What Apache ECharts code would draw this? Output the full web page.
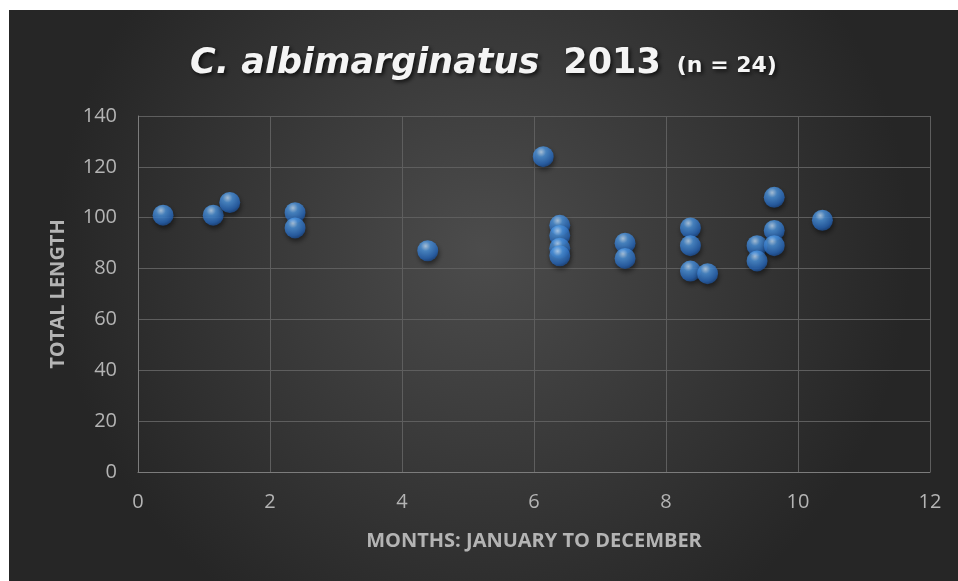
<!DOCTYPE html>
<html>
<head>
<meta charset="utf-8">
<script src="https://cdn.jsdelivr.net/npm/echarts@6/dist/echarts.min.js"></script>
<style>
  html, body { margin: 0; padding: 0; background: #fff; }
  #chart { position: absolute; left: 9px; top: 10px; width: 949px; height: 571px; }
</style>
</head>
<body>
<div id="chart"></div>
<script>
// month (fractional) vs total length
const months = [0.38, 1.14, 1.39, 2.38, 2.38, 4.39, 6.14, 6.39, 6.39, 6.39, 6.39,
  7.38, 7.38, 8.37, 8.37, 8.37, 8.63, 9.38, 9.38, 9.64, 9.64, 9.64, 10.37];
const lengths = [101, 101, 106, 102, 96, 87, 124, 97, 93, 88, 85,
  90, 84, 96, 89, 79, 78, 89, 83, 108, 95, 89, 99];
const xTicks = [0, 2, 4, 6, 8, 10, 12];
const yTicks = [0, 20, 40, 60, 80, 100, 120, 140];

const points = months.map((m, i) => [m, lengths[i]]);

const chart = echarts.init(document.getElementById('chart'));

const sphere = new echarts.graphic.RadialGradient(0.4, 0.28, 0.78, [
  { offset: 0, color: '#c4e2ff' },
  { offset: 0.3, color: '#4e97e2' },
  { offset: 0.75, color: '#2868bb' },
  { offset: 1, color: '#17407c' }
]);

const labelColor = '#b4b4b4';
const font = '"Open Sans", sans-serif';
const titleFont = '"DejaVu Sans", sans-serif';
const shadow = {
  textShadowColor: 'rgba(0,0,0,0.75)', textShadowBlur: 4, textShadowOffsetX: 2, textShadowOffsetY: 2
};

chart.setOption({
  backgroundColor: new echarts.graphic.RadialGradient(0.5, 0.42, 0.75, [
    { offset: 0, color: '#4c4c4c' },
    { offset: 1, color: '#262626' }
  ]),
  title: {
    text: '{it|C. albimarginatus}{b|2013}{s|(n = 24)}',
    left: 'center',
    top: 31,
    textStyle: {
      rich: {
        it: Object.assign({ fontSize: 35, fontStyle: 'italic', fontWeight: 'bold', color: '#f4f4f4', fontFamily: titleFont }, shadow),
        b: Object.assign({ fontSize: 35, fontWeight: 'bold', color: '#f4f4f4', fontFamily: titleFont, padding: [0, 0, 0, 24] }, shadow),
        s: Object.assign({ fontSize: 22, fontWeight: 'bold', color: '#f4f4f4', fontFamily: titleFont, padding: [6, 0, 0, 16] }, shadow)
      }
    }
  },
  grid: { left: 129, right: 28, top: 106, bottom: 109, containLabel: false },
  xAxis: {
    type: 'value',
    min: xTicks[0],
    max: xTicks[xTicks.length - 1],
    interval: 2,
    name: 'MONTHS: JANUARY TO DECEMBER',
    nameLocation: 'middle',
    nameGap: 59,
    nameTextStyle: { color: labelColor, fontSize: 20, fontWeight: 'bold', fontFamily: font },
    axisLine: { show: true, lineStyle: { color: '#7c7c7c', width: 1 } },
    axisTick: { show: false },
    axisLabel: { color: labelColor, fontSize: 20, fontFamily: font, margin: 20 },
    splitLine: { show: true, lineStyle: { color: '#5e5e5e', width: 1 } }
  },
  yAxis: {
    type: 'value',
    min: yTicks[0],
    max: yTicks[yTicks.length - 1],
    interval: 20,
    name: 'TOTAL LENGTH',
    nameLocation: 'middle',
    nameGap: 70,
    nameTextStyle: { color: labelColor, fontSize: 20, fontWeight: 'bold', fontFamily: font },
    axisLine: { show: true, lineStyle: { color: '#7c7c7c', width: 1 } },
    axisTick: { show: false },
    axisLabel: { color: labelColor, fontSize: 20, fontFamily: font, margin: 21 },
    splitLine: { show: true, lineStyle: { color: '#5e5e5e', width: 1 } }
  },
  series: [{
    type: 'scatter',
    data: points,
    symbol: 'circle',
    symbolSize: 21,
    itemStyle: {
      color: sphere,
      shadowColor: 'rgba(0,0,0,0.6)',
      shadowBlur: 5,
      shadowOffsetX: 1,
      shadowOffsetY: 3
    },
    emphasis: { disabled: true },
    animation: false
  }]
});
</script>
</body>
</html>
